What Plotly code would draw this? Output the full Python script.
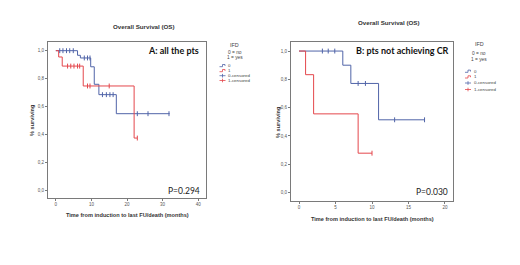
import plotly.graph_objects as go

W, H = 520, 265

# ---------------- data ----------------
# Panel A: all the pts
A_g0_time = [0, 6.1, 6.9, 9.8, 10.8, 12.1, 17.0, 32.0]
A_g0_surv = [1.0, 0.967, 0.948, 0.885, 0.76, 0.686, 0.55, 0.55]
A_g1_time = [0, 0.8, 1.8, 7.7, 22.0, 22.9]
A_g1_surv = [1.0, 0.955, 0.89, 0.748, 0.376, 0.376]
A_c0_time = [1.1, 2.0, 3.0, 3.9, 4.9, 8.0, 8.9, 9.6, 13.1, 14.2, 15.2, 16.1, 22.9, 25.9, 31.8]
A_c0_surv = [1.0, 1.0, 1.0, 1.0, 1.0, 0.948, 0.948, 0.948, 0.686, 0.686, 0.686, 0.686, 0.55, 0.55, 0.55]
A_c1_time = [3.3, 4.2, 5.1, 6.1, 6.7, 8.9, 9.6, 15.0, 22.9]
A_c1_surv = [0.89, 0.89, 0.89, 0.89, 0.89, 0.748, 0.748, 0.748, 0.376]

# Panel B: pts not achieving CR
B_g0_time = [0, 6.0, 7.1, 10.9, 17.2]
B_g0_surv = [1.0, 0.9, 0.771, 0.514, 0.514]
B_g1_time = [0, 0.9, 2.0, 8.1, 10.0]
B_g1_surv = [1.0, 0.833, 0.556, 0.278, 0.278]
B_c0_time = [3.2, 4.0, 4.9, 8.1, 9.1, 13.1, 17.2]
B_c0_surv = [1.0, 1.0, 1.0, 0.771, 0.771, 0.514, 0.514]
B_c1_time = [10.0]
B_c1_surv = [0.278]

y_tickvals = [0.0, 0.2, 0.4, 0.6, 0.8, 1.0]
y_ticktext = ["0,0", "0,2", "0,4", "0,6", "0,8", "1,0"]
A_xticks = [0, 10, 20, 30, 40]
B_xticks = [0, 5, 10, 15, 20]

title_text = "Overall Survival (OS)"
xtitle_text = "Time from induction to last FU/death (months)"
ytitle_text = "% surviving"
legend_lines = ["IFD", "0 = no", "1 = yes"]
legend_items = ["0", "1", "0-censored", "1-censored"]

BLUE = "#5064a8"
RED = "#e4474c"
GRAY = "#7a7a7a"
TXT = "#333333"


def px(x):
    return x / W


def py(y):
    return 1 - y / H


fig = go.Figure()

panels = [
    dict(ax="", g0=(A_g0_time, A_g0_surv), g1=(A_g1_time, A_g1_surv),
         c0=(A_c0_time, A_c0_surv), c1=(A_c1_time, A_c1_surv)),
    dict(ax="2", g0=(B_g0_time, B_g0_surv), g1=(B_g1_time, B_g1_surv),
         c0=(B_c0_time, B_c0_surv), c1=(B_c1_time, B_c1_surv)),
]

for p in panels:
    xa, ya = "x" + p["ax"], "y" + p["ax"]
    fig.add_trace(go.Scatter(x=p["g0"][0], y=p["g0"][1], mode="lines", line_shape="hv",
                             line=dict(color=BLUE, width=1), xaxis=xa, yaxis=ya, showlegend=False))
    fig.add_trace(go.Scatter(x=p["g1"][0], y=p["g1"][1], mode="lines", line_shape="hv",
                             line=dict(color=RED, width=1), xaxis=xa, yaxis=ya, showlegend=False))
    fig.add_trace(go.Scatter(x=p["c0"][0], y=p["c0"][1], mode="markers",
                             marker=dict(symbol="line-ns-open", size=3.5, color=BLUE,
                                         line=dict(color=BLUE, width=1)),
                             xaxis=xa, yaxis=ya, showlegend=False))
    fig.add_trace(go.Scatter(x=p["c1"][0], y=p["c1"][1], mode="markers",
                             marker=dict(symbol="line-ns-open", size=3.5, color=RED,
                                         line=dict(color=RED, width=1)),
                             xaxis=xa, yaxis=ya, showlegend=False))

axis_common = dict(showline=True, mirror=True, linecolor=GRAY, linewidth=1, showgrid=False,
                   zeroline=False, ticks="outside", ticklen=2, tickcolor=GRAY, tickwidth=1,
                   tickfont=dict(size=4.5, color="#555", family="Liberation Sans"))

fig.update_layout(
    width=W, height=H, margin=dict(l=0, r=0, t=0, b=0),
    paper_bgcolor="white", plot_bgcolor="white", showlegend=False,
    xaxis=dict(domain=[px(40), px(198)], range=[-2.2, 42.2], tickvals=A_xticks,
               anchor="y", **axis_common),
    yaxis=dict(domain=[py(190), py(34)], range=[-0.052, 1.062], tickvals=y_tickvals,
               ticktext=y_ticktext, anchor="x", **axis_common),
    xaxis2=dict(domain=[px(283), px(445)], range=[-1.1, 21.1], tickvals=B_xticks,
                anchor="y2", **axis_common),
    yaxis2=dict(domain=[py(192.5), py(34)], range=[-0.0565, 1.064], tickvals=y_tickvals,
                ticktext=y_ticktext, anchor="x2", **axis_common),
)

ann = []


def text(x, y, s, size, bold=False, family="Liberation Sans", xanchor="center", color=TXT, angle=0):
    ann.append(dict(x=px(x), y=py(y), xref="paper", yref="paper", text=("<b>%s</b>" % s) if bold else s,
                    showarrow=False, xanchor=xanchor, yanchor="middle", textangle=angle,
                    font=dict(size=size, family=family, color=color)))


# titles
text(136, 19, title_text, 6.2, bold=True)
text(381, 15, title_text, 6.2, bold=True)
# x titles
text(119, 207, xtitle_text, 5.6, bold=True)
text(364, 210.5, xtitle_text, 5.6, bold=True)
# y titles
text(24, 112, ytitle_text, 5.6, bold=True, angle=-90)
text(270, 114, ytitle_text, 5.6, bold=True, angle=-90)
# panel labels
text(193, 43, "A: all the pts", 9, bold=True, family="Lato", xanchor="right", color="#111")
text(443, 43, "B: pts not achieving CR", 9, bold=True, family="Lato", xanchor="right", color="#111")
# p-values
text(194, 182.5, "P=0.294", 8.5, family="Lato", xanchor="right", color="#222")
text(442, 184, "P=0.030", 8.5, family="Lato", xanchor="right", color="#222")

shapes = []


def legend(cx, ys_head, icon_x, ys_items):
    for s, y in zip(legend_lines, ys_head):
        text(cx, y, s, 4.8 if s != "IFD" else 5.4, color="#444")
    cols = [BLUE, RED, BLUE, RED]
    for i, (lab, y, c) in enumerate(zip(legend_items, ys_items, cols)):
        x0 = icon_x
        if i < 2:
            path = "M %f %f L %f %f L %f %f L %f %f L %f %f" % (
                px(x0), py(y + 1), px(x0 + 3), py(y + 1), px(x0 + 3), py(y - 1.2),
                px(x0 + 5.5), py(y - 1.2), px(x0 + 5.5), py(y + 0.2))
            shapes.append(dict(type="path", path=path, xref="paper", yref="paper",
                               line=dict(color=c, width=0.8)))
        else:
            shapes.append(dict(type="line", x0=px(x0), x1=px(x0 + 6), y0=py(y), y1=py(y),
                               xref="paper", yref="paper", line=dict(color=c, width=0.8)))
            shapes.append(dict(type="line", x0=px(x0 + 3), x1=px(x0 + 3), y0=py(y - 1.8), y1=py(y + 1.8),
                               xref="paper", yref="paper", line=dict(color=c, width=0.8)))
        text(x0 + 6.5, y, lab, 4.4, xanchor="left", color="#444")


legend(226.5, [37, 45, 50], 211.5, [57.7, 62.7, 67.7, 72.5])
legend(471, [36, 46, 51.5], 457, [63.3, 69, 75, 81.5])

fig.update_layout(annotations=ann, shapes=shapes)
fig.write_html("out.html")
